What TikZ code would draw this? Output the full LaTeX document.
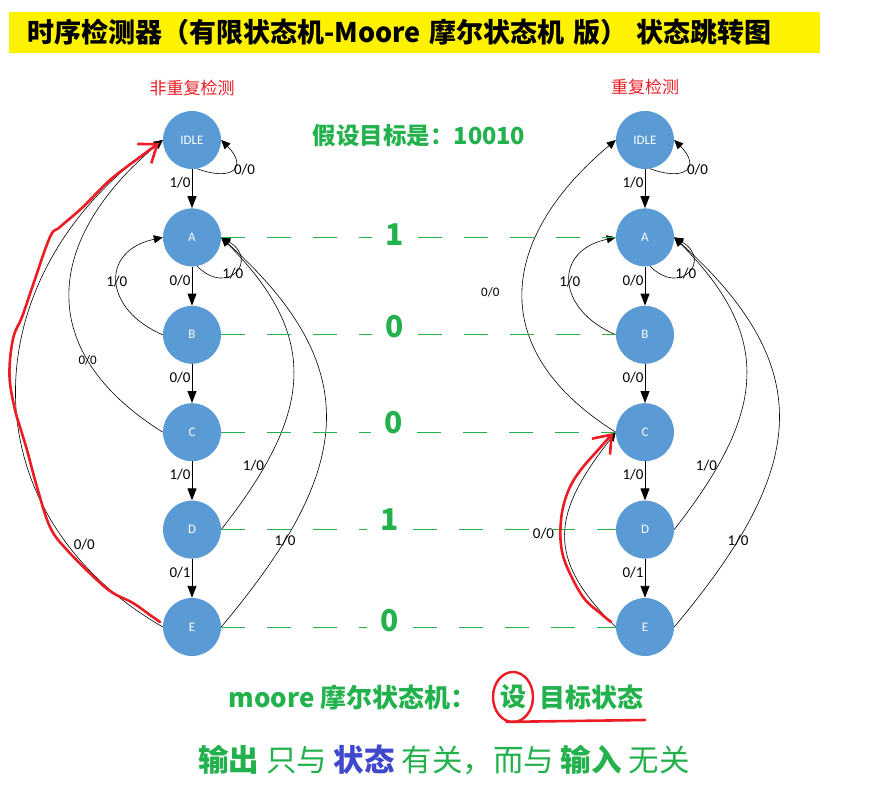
\documentclass[tikz,border=0pt]{standalone}
\usepackage{fontspec}
\setmainfont{Carlito}
\newfontfamily\cjk{Noto Sans CJK SC}
\usetikzlibrary{arrows.meta,positioning,shapes.geometric}
\definecolor{statefill}{HTML}{5B9BD5}
\definecolor{hintgreen}{HTML}{22B14C}
\definecolor{penred}{HTML}{ED1C24}
\definecolor{stateblue}{HTML}{3F48CC}
\definecolor{banneryellow}{HTML}{FFF200}
\tikzset{
    state/.style={circle,fill=statefill,minimum size=58pt,inner sep=0pt,
        text=white,font=\fontsize{13}{13}\selectfont},
    into/.style={{Triangle[length=12pt,width=9pt]}-,line width=0.9pt},
    jump/.style={-{Triangle[length=9pt,width=8pt]},line width=0.6pt},
    lbl/.style={font=\fontsize{15}{15}\selectfont,inner sep=1pt},
    lblsmall/.style={font=\fontsize{13}{13}\selectfont,inner sep=1pt},
    bit/.style={font=\cjk\bfseries\fontsize{30}{30}\selectfont,text=hintgreen,inner xsep=14pt},
    guide/.style={hintgreen,line width=0.9pt,dash pattern=on 24pt off 22pt},
    pen/.style={penred,line width=2.6pt,line cap=round,line join=round},
    barb/.style={-{Straight Barb[length=16pt,width=24pt]}},
    caption/.style={font=\cjk\fontsize{17}{17}\selectfont,text=penred},
    banner/.style={anchor=north west,fill=banneryellow,minimum height=41pt,text width=775pt,
        inner xsep=18pt,inner ysep=0pt,align=left,font=\cjk\bfseries\fontsize{27}{30}\selectfont},
    slogan/.style={font=\cjk\bfseries\fontsize{26}{28}\selectfont,text=hintgreen},
    motto/.style={font=\cjk\fontsize{30.5}{32}\selectfont,text=hintgreen}
}

\begin{document}
\begin{tikzpicture}[x=1pt,y=1pt,node distance=39pt]
\useasboundingbox (0,0) rectangle (892,-800);

\node[banner] (title) at (9,-12) {时序检测器（有限状态机-Moore 摩尔状态机 版） 状态跳转图};
\node[font=\cjk\bfseries\fontsize{23.5}{25}\selectfont,text=hintgreen] (target) at (419,-136) {假设目标是：10010};

% non-overlapping detection
\node[caption] (lcap) at (192,-88) {非重复检测};
\node[state] (lidle) at (192,-140) {IDLE};
\node[state] (la) [below=of lidle] {A}
    edge[into] node[lbl,left,pos=0.65] {1/0} (lidle);
\node[state] (lb) [below=of la] {B}
    edge[into] node[lbl,left,pos=0.65] {0/0} (la);
\node[state] (lc) [below=of lb] {C}
    edge[into] node[lbl,left,pos=0.65] {0/0} (lb);
\node[state] (ld) [below=of lc] {D}
    edge[into] node[lbl,left,pos=0.65] {1/0} (lc);
\node[state] (le) [below=of ld] {E}
    edge[into] node[lbl,left,pos=0.65] {0/1} (ld);
\draw[jump] (lidle.-80) to[out=-20,in=-45,looseness=2.6] node[lbl,pos=0.5,right=0pt] {0/0} (lidle.east);
\draw[jump] (la.-80) to[out=-45,in=-30,looseness=3] node[lbl,pos=0.45] {1/0} (la.east);
\draw[jump] (lb.west) to[out=157,in=192,looseness=1.7] node[lbl,pos=0.5] {1/0} (la.west);
\draw[jump] (lc.west) to[out=148,in=220,looseness=1.35] node[lblsmall,pos=0.27] {0/0} (lidle.west);
\draw[jump] (ld.east) to[out=52,in=-45,looseness=1.27] node[lbl,pos=0.2,left=0pt] {1/0} (la.east);
\draw[jump] (le.east) to[out=50,in=-42,looseness=1.32] node[lbl,pos=0.2] {1/0} (la.east);
\draw[jump] (le.west) to[out=150,in=215,looseness=1.22] node[lbl,pos=0.2,right=5pt] {0/0} (lidle.west);

% overlapping detection
\node[caption] (rcap) at (645,-87) {重复检测};
\node[state] (ridle) at (645,-140) {IDLE};
\node[state] (ra) [below=of ridle] {A}
    edge[into] node[lbl,left,pos=0.65] {1/0} (ridle);
\node[state] (rb) [below=of ra] {B}
    edge[into] node[lbl,left,pos=0.65] {0/0} (ra);
\node[state] (rc) [below=of rb] {C}
    edge[into] node[lbl,left,pos=0.65] {0/0} (rb);
\node[state] (rd) [below=of rc] {D}
    edge[into] node[lbl,left,pos=0.65] {1/0} (rc);
\node[state] (re) [below=of rd] {E}
    edge[into] node[lbl,left,pos=0.65] {0/1} (rd);
\draw[jump] (ridle.-80) to[out=-20,in=-45,looseness=2.6] node[lbl,pos=0.5,right=0pt] {0/0} (ridle.east);
\draw[jump] (ra.-80) to[out=-45,in=-30,looseness=3] node[lbl,pos=0.45] {1/0} (ra.east);
\draw[jump] (rb.west) to[out=157,in=192,looseness=1.7] node[lbl,pos=0.5] {1/0} (ra.west);
\draw[jump] (rc.west) to[out=148,in=220,looseness=1.35] node[lblsmall,pos=0.5,left=22pt] {0/0} (ridle.west);
\draw[jump] (rd.east) to[out=52,in=-45,looseness=1.27] node[lbl,pos=0.2,left=0pt] {1/0} (ra.east);
\draw[jump] (re.east) to[out=50,in=-42,looseness=1.32] node[lbl,pos=0.2] {1/0} (ra.east);
\draw[jump] (re.west) to[out=136,in=232,looseness=1.33] node[lbl,pos=0.5,left=10pt] {0/0} (rc.west);

% target bits between the two machines
\node[bit] (bit1) at (395,-235) {1};
\node[bit] (bit2) at (395,-327) {0};
\node[bit] (bit3) at (394,-423) {0};
\node[bit] (bit4) at (390,-520) {1};
\node[bit] (bit5) at (390,-621) {0};
\draw[guide] (la) -- (la -| bit1.west) (la -| bit1.east) -- (ra);
\draw[guide] (lb) -- (lb -| bit2.west) (lb -| bit2.east) -- (rb);
\draw[guide] (lc) -- (lc -| bit3.west) (lc -| bit3.east) -- (rc);
\draw[guide] (ld) -- (ld -| bit4.west) (ld -| bit4.east) -- (rd);
\draw[guide] (le) -- (le -| bit5.west) (le -| bit5.east) -- (re);

% hand marks
\draw[pen,barb] plot[smooth,tension=0.6] coordinates {(160,-622) (150,-615) (133,-603) (113,-593)
    (97,-580) (67,-550) (50,-527) (37,-487) (27,-450) (20,-427) (15,-410) (10,-383) (10,-360)
    (14,-335) (22,-317) (33,-285) (50,-237) (60,-227) (83,-207) (110,-180) (140,-157) (159,-143)};
\draw[pen,barb] plot[smooth,tension=0.6] coordinates {(611,-622) (600,-613) (583,-597) (567,-567)
    (561,-545) (561,-520) (565,-500) (572,-483) (583,-467) (598,-450) (613,-433)};

% bottom notes
\node[slogan,anchor=west] (moore) at (225,-697) {moore 摩尔状态机：};
\node[slogan,ellipse,draw=penred,line width=2.4pt,minimum width=40pt,minimum height=50pt,inner sep=0pt] (she) at (513,-697) {设};
\node[slogan,anchor=west] (goalstate) at (536,-697) {目标状态};
\coordinate (ulend) at (645,-720);
\draw[pen] (she.-105) -- (ulend);
\node[motto] (motto) at (444,-760) {{\bfseries 输出} 只与 {\bfseries\color{stateblue}状态} 有关，而与 {\bfseries 输入} 无关};
\end{tikzpicture}
\end{document}
